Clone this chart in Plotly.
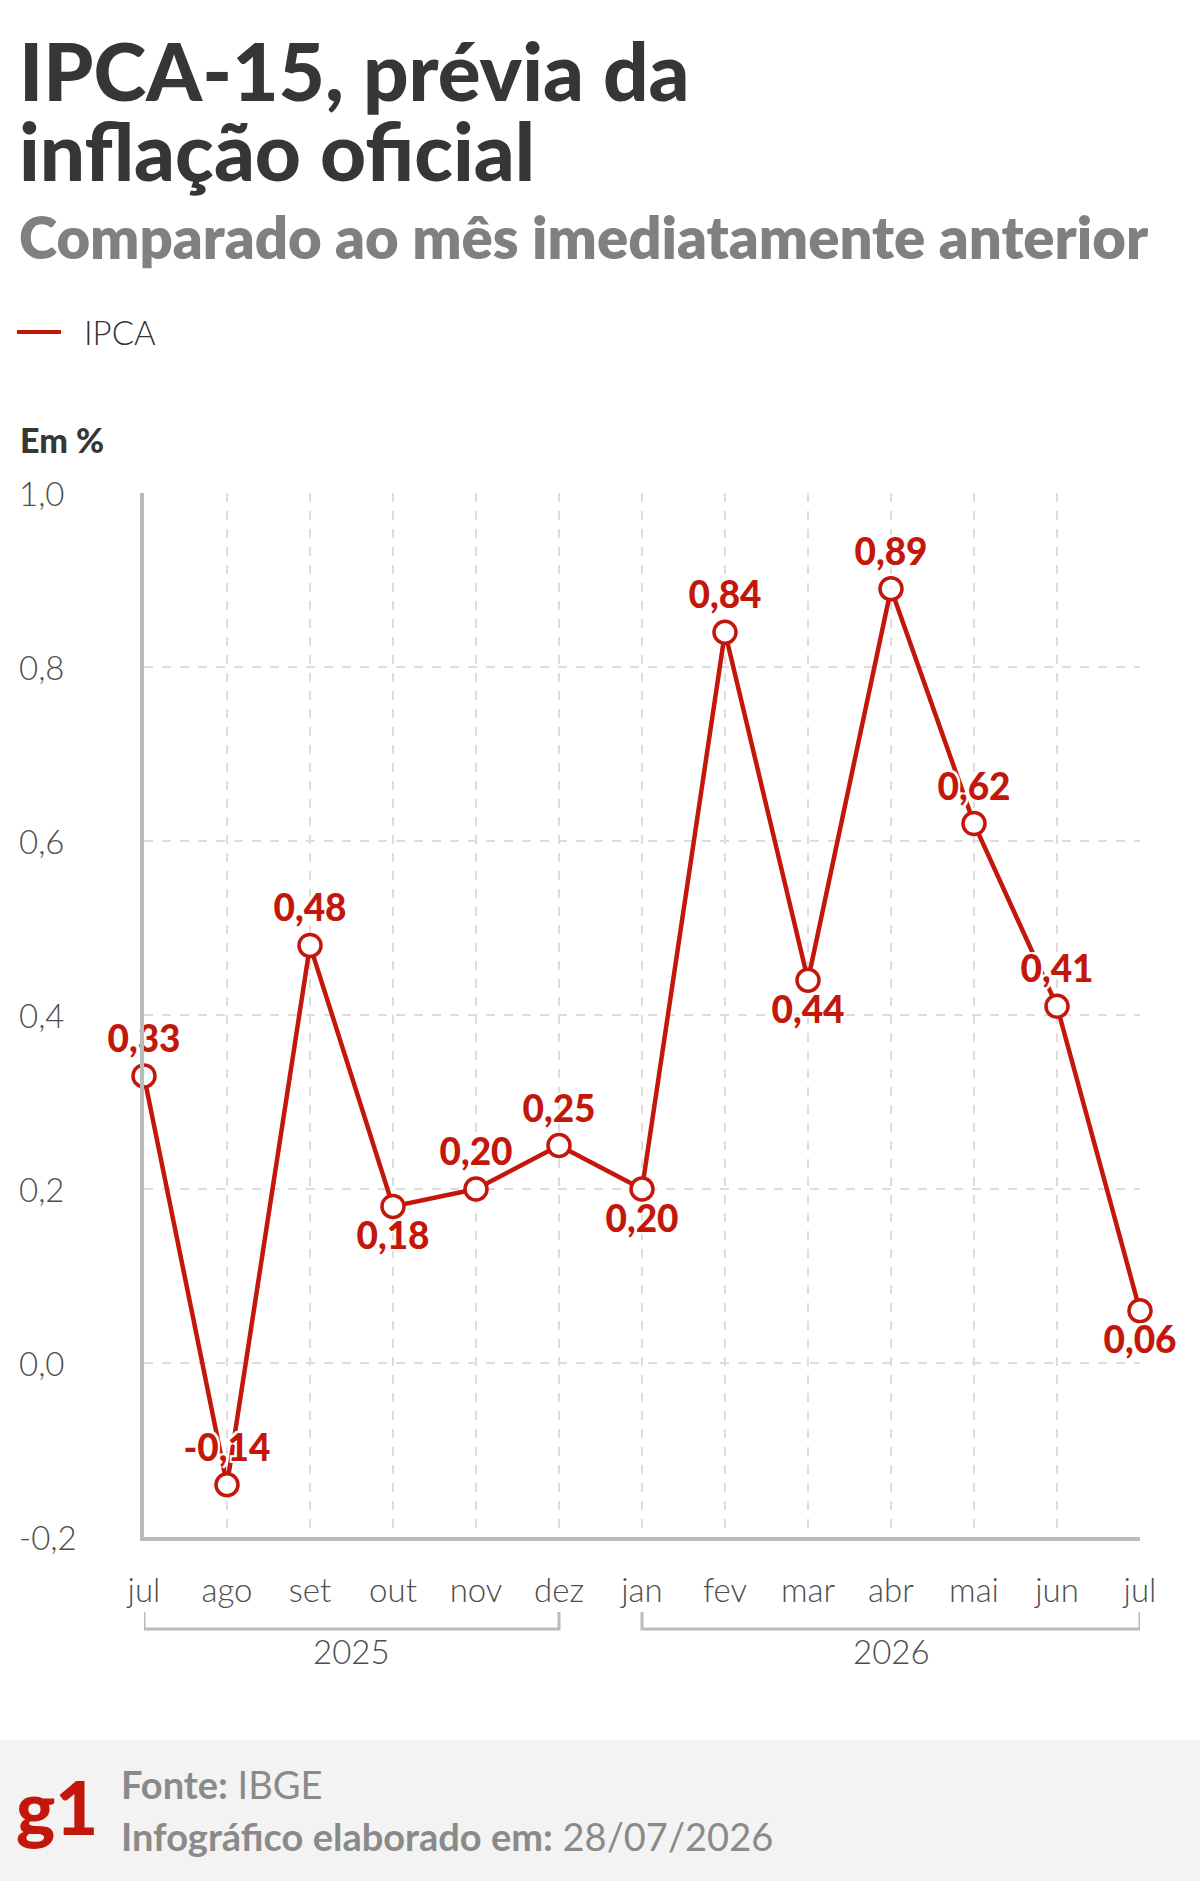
import plotly.graph_objects as go

meses = ['jul', 'ago', 'set', 'out', 'nov', 'dez', 'jan', 'fev', 'mar', 'abr', 'mai', 'jun', 'jul']
ipca = [0.33, -0.14, 0.48, 0.18, 0.20, 0.25, 0.20, 0.84, 0.44, 0.89, 0.62, 0.41, 0.06]
rotulos = ['0,33', '-0,14', '0,48', '0,18', '0,20', '0,25', '0,20', '0,84', '0,44', '0,89', '0,62', '0,41', '0,06']
posicao = ['top center', 'top center', 'top center', 'bottom center', 'top center', 'top center',
           'bottom center', 'top center', 'bottom center', 'top center', 'top center', 'top center',
           'bottom center']
y_ticks = [-0.2, 0.0, 0.2, 0.4, 0.6, 0.8, 1.0]
y_ticktext = ['-0,2', '0,0', '0,2', '0,4', '0,6', '0,8', '1,0']
anos = ['2025', '2026']
anos_inicio = [0, 6]
anos_fim = [5, 12]

VERMELHO = '#c4170c'
CINZA = '#4d4d4d'
FONTE = 'Lato'

W, H = 1200, 1881
L, R, T, B = 144, 60, 493, 344
PH = H - T - B
PW = W - L - R


def px(x):
    return (x - L) / PW


def py(y):
    return (H - B - y) / PH


x = list(range(len(meses)))

fig = go.Figure()

fig.add_trace(go.Scatter(
    x=x, y=ipca, mode='lines+markers+text',
    text=rotulos, textposition=posicao,
    textfont=dict(family=FONTE, size=37, color=VERMELHO, weight=900,
                  shadow='2px 2px 0 #fff, -2px -2px 0 #fff, 2px -2px 0 #fff, -2px 2px 0 #fff'),
    line=dict(color=VERMELHO, width=4.5),
    marker=dict(size=22, color='white', line=dict(color=VERMELHO, width=3.5)),
    cliponaxis=False, showlegend=False, hoverinfo='skip'))

anns = []
anns.append(dict(text='IPCA-15, prévia da', x=px(17), y=py(70), xanchor='left', yanchor='middle',
                 font=dict(family=FONTE, size=80, color='#363636', weight=900)))
anns.append(dict(text='inflação oficial', x=px(17), y=py(150), xanchor='left', yanchor='middle',
                 font=dict(family=FONTE, size=80, color='#363636', weight=900)))
anns.append(dict(text='Comparado ao mês imediatamente anterior', x=px(17), y=py(236),
                 xanchor='left', yanchor='middle',
                 font=dict(family=FONTE, size=58, color='#808080', weight=800)))
anns.append(dict(text='IPCA', x=px(82), y=py(332), xanchor='left', yanchor='middle',
                 font=dict(family=FONTE, size=33, color='#333333', weight=300)))
anns.append(dict(text='Em %', x=px(18), y=py(440), xanchor='left', yanchor='middle',
                 font=dict(family=FONTE, size=34, color='#363636', weight=900)))

for v, t in zip(y_ticks, y_ticktext):
    anns.append(dict(text=t, x=px(17), xref='paper', y=v, yref='y', xanchor='left', yanchor='middle',
                     font=dict(family=FONTE, size=33, color=CINZA, weight=300)))

shapes = []
# legenda
shapes.append(dict(type='line', xref='paper', yref='paper', x0=px(17), x1=px(61), y0=py(332), y1=py(332),
                   line=dict(color=VERMELHO, width=4)))

for a, i0, i1 in zip(anos, anos_inicio, anos_fim):
    shapes.append(dict(type='path', xref='x', yref='paper',
                       path=f'M {i0},{py(1612)} L {i0},{py(1629)} L {i1},{py(1629)} L {i1},{py(1612)}',
                       line=dict(color='#bbbbbb', width=3)))
    anns.append(dict(text=a, x=(i0 + i1) / 2, xref='x', y=py(1651), yref='paper',
                     xanchor='center', yanchor='middle',
                     font=dict(family=FONTE, size=33, color=CINZA, weight=300)))

# rodapé
shapes.append(dict(type='rect', xref='paper', yref='paper', x0=px(0), x1=px(W), y0=py(1740), y1=py(H),
                   fillcolor='#f3f3f3', line=dict(width=0), layer='below'))
anns.append(dict(text='g1', x=px(14), y=py(1806), xanchor='left', yanchor='middle',
                 font=dict(family=FONTE, size=74, color=VERMELHO, weight=900)))
anns.append(dict(text='<b>Fonte:</b> IBGE', x=px(119), y=py(1784), xanchor='left', yanchor='middle',
                 font=dict(family=FONTE, size=38, color='#8a8a8a', weight=400)))
anns.append(dict(text='<b>Infográfico elaborado em:</b> 28/07/2026', x=px(119), y=py(1836),
                 xanchor='left', yanchor='middle',
                 font=dict(family=FONTE, size=38, color='#8a8a8a', weight=400)))

for a in anns:
    a.setdefault('xref', 'paper')
    a.setdefault('yref', 'paper')
    a['showarrow'] = False

fig.update_layout(
    width=W, height=H,
    margin=dict(l=L, r=R, t=T, b=B),
    paper_bgcolor='white', plot_bgcolor='white',
    annotations=anns, shapes=shapes,
    showlegend=False,
    xaxis=dict(range=[0, 12], tickvals=x, ticktext=meses, showgrid=True,
               gridcolor='#dddddd', griddash='dash', gridwidth=2,
               showline=True, linecolor='#bbbbbb', linewidth=4, zeroline=False,
               ticks='', ticklabelstandoff=21,
               tickfont=dict(family=FONTE, size=33, color=CINZA, weight=300)),
    yaxis=dict(range=[-0.2, 1.0], tickvals=y_ticks, showticklabels=False, showgrid=True,
               gridcolor='#dddddd', griddash='dash', gridwidth=2,
               showline=True, linecolor='#bbbbbb', linewidth=4, zeroline=False, ticks=''),
)

fig.write_html('out.html', config={'displayModeBar': False},
               post_script="document.body.style.margin='0';")
